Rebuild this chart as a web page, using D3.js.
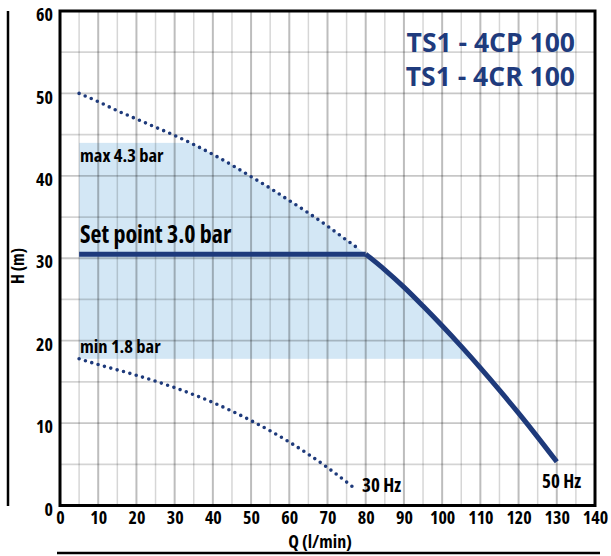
<!DOCTYPE html>
<html>
<head>
<meta charset="utf-8">
<script src="https://cdn.jsdelivr.net/npm/d3@7"></script>
<style>
  body { margin: 0; background: #fff; }
  svg { display: block; }
  text { font-family: "Open Sans", sans-serif; font-stretch: 75%; font-weight: bold; }
  text.title { font-family: "Open Sans", sans-serif; font-stretch: normal; font-weight: bold; }
</style>
</head>
<body>
<div id="chart"></div>
<script>
// flow Q (l/min) and head H (m)
const xTicks = [0, 10, 20, 30, 40, 50, 60, 70, 80, 90, 100, 110, 120, 130, 140];
const yTicks = [0, 10, 20, 30, 40, 50, 60];

// 50 Hz max curve (dotted, above set point)
const maxQ = [5, 10, 15, 20, 25, 30, 35, 40, 45, 50, 55, 60, 65, 70, 75, 78];
const maxH = [50, 49.0, 47.9, 46.9, 45.9, 44.9, 43.8, 42.6, 41.3, 39.9, 38.5, 37.0, 35.5, 33.9, 32.2, 31.2];

// 30 Hz curve (dotted)
const minQ = [5, 10, 20, 30, 40, 50, 60, 70, 76.5];
const minH = [17.8, 17.1, 15.8, 14.3, 12.5, 10.3, 7.7, 4.6, 2.3];

// set point line
const setQ = [5, 80];
const setH = [30.5, 30.5];

// 50 Hz curve below set point (solid)
const pumpQ = [80, 85, 90, 95, 100, 105, 110, 115, 120, 125, 130];
const pumpH = [30.5, 28.6, 26.5, 24.2, 21.8, 19.3, 16.7, 14.0, 11.2, 8.3, 5.3];

// pressure band (m)
const bandTop = 44.0;
const bandBottom = 17.8;

const W = 611, H = 556;
const x = d3.scaleLinear().domain([0, 140]).range([60, 595]);
const y = d3.scaleLinear().domain([0, 60]).range([505.5, 11]);
const navy = "#1e3a7b";

const svg = d3.select("#chart").append("svg").attr("width", W).attr("height", H);

const zip = (qs, hs) => qs.map((q, i) => [q, hs[i]]);
const line = d3.line().x(d => x(d[0])).y(d => y(d[1])).curve(d3.curveMonotoneX);

// shaded band clipped under the max / 50 Hz boundary
const boundary = zip(maxQ, maxH).concat(zip(pumpQ, pumpH));
svg.append("clipPath").attr("id", "under")
  .append("path")
  .attr("d", d3.area().x(d => x(d[0])).y0(y(0)).y1(d => y(d[1])).curve(d3.curveMonotoneX)(boundary));
svg.append("rect")
  .attr("x", x(5)).attr("y", y(bandTop))
  .attr("width", x(140) - x(5)).attr("height", y(bandBottom) - y(bandTop))
  .attr("fill", "#d3e7f5")
  .attr("clip-path", "url(#under)");

// grid
const grid = svg.append("g");
d3.range(5, 140, 5).forEach(v => {
  grid.append("line")
    .attr("x1", x(v)).attr("x2", x(v)).attr("y1", y(0)).attr("y2", y(60))
    .attr("stroke", "#000").attr("stroke-opacity", v % 10 === 0 ? 0.26 : 0.16)
    .attr("stroke-width", v % 10 === 0 ? 2 : 1.5);
});
d3.range(5, 60, 5).forEach(v => {
  grid.append("line")
    .attr("x1", x(0)).attr("x2", x(140)).attr("y1", y(v)).attr("y2", y(v))
    .attr("stroke", "#000").attr("stroke-opacity", v % 10 === 0 ? 0.22 : 0.17)
    .attr("stroke-width", 1.8);
});

// curves
[zip(maxQ, maxH), zip(minQ, minH)].forEach(pts => {
  svg.append("path").attr("d", line(pts))
    .attr("fill", "none").attr("stroke", navy).attr("stroke-width", 3.6)
    .attr("stroke-linecap", "round").attr("stroke-dasharray", "0 6.6");
});
svg.append("path").attr("d", d3.line().x(d => x(d[0])).y(d => y(d[1]))(zip(setQ, setH)))
  .attr("fill", "none").attr("stroke", navy).attr("stroke-width", 5);
svg.append("path").attr("d", d3.line().x(d => x(d[0])).y(d => y(d[1]))
    .curve(d3.curveCatmullRom)(zip(pumpQ, pumpH)))
  .attr("fill", "none").attr("stroke", navy).attr("stroke-width", 5);

// frame
svg.append("rect")
  .attr("x", x(0)).attr("y", y(60)).attr("width", x(140) - x(0)).attr("height", y(0) - y(60))
  .attr("fill", "none").attr("stroke", "#000").attr("stroke-width", 3);
svg.append("line").attr("x1", 8).attr("x2", 8).attr("y1", 11).attr("y2", 506)
  .attr("stroke", "#000").attr("stroke-width", 2.5);
svg.append("line").attr("x1", 57).attr("x2", 600).attr("y1", 553).attr("y2", 553)
  .attr("stroke", "#000").attr("stroke-width", 2.5);

// axes
const xAxis = svg.append("g").attr("transform", `translate(0,${y(0)})`)
  .call(d3.axisBottom(x).tickValues(xTicks).tickSize(0).tickPadding(5.5));
xAxis.select(".domain").remove();
xAxis.selectAll("text").attr("font-size", 18).attr("fill", "#000");

const yAxis = svg.append("g").attr("transform", `translate(${x(0)},0)`)
  .call(d3.axisLeft(y).tickValues(yTicks).tickSize(0).tickPadding(7));
yAxis.select(".domain").remove();
yAxis.selectAll("text").attr("font-size", 18).attr("fill", "#000").attr("dy", "0.54em");
svg.selectAll("g").attr("font-family", null).attr("font-size", null);

// axis titles
svg.append("text").attr("x", 320).attr("y", 548).attr("text-anchor", "middle")
  .attr("font-size", 18).text("Q (l/min)");
svg.append("text").attr("transform", "translate(24,266) rotate(-90)")
  .attr("text-anchor", "middle").attr("font-size", 17).text("H (m)");

// labels
svg.append("text").attr("x", 80).attr("y", 162).attr("font-size", 18.5).text("max 4.3 bar");
svg.append("text").attr("x", 80).attr("y", 353).attr("font-size", 18.5).text("min 1.8 bar");
svg.append("text").attr("x", 80).attr("y", 243).attr("font-size", 24).text("Set point 3.0 bar");
svg.append("text").attr("x", 362).attr("y", 492).attr("font-size", 19).text("30 Hz");
svg.append("text").attr("x", 542).attr("y", 488).attr("font-size", 19).text("50 Hz");

// title
svg.append("text").attr("class", "title").attr("x", 575).attr("y", 52).attr("text-anchor", "end")
  .attr("font-size", 26.5).attr("fill", "#1f3b7d").text("TS1 - 4CP 100");
svg.append("text").attr("class", "title").attr("x", 575).attr("y", 86).attr("text-anchor", "end")
  .attr("font-size", 26.5).attr("fill", "#1f3b7d").text("TS1 - 4CR 100");
</script>
</body>
</html>
